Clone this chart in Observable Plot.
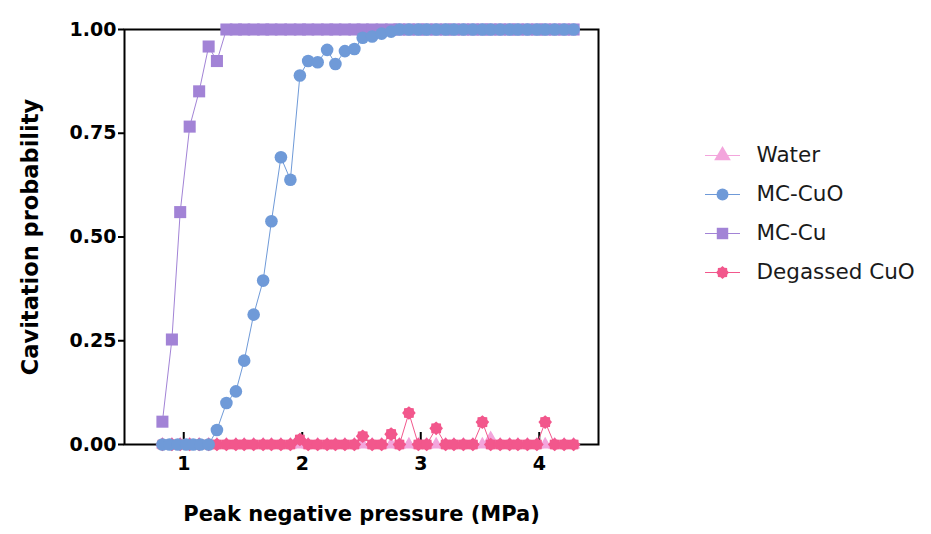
<!DOCTYPE html>
<html>
<head>
<meta charset="utf-8">
<script src="https://cdn.jsdelivr.net/npm/d3@7"></script>
<script src="https://cdn.jsdelivr.net/npm/@observablehq/plot@0.6"></script>
<style>
  body { margin: 0; background: #fff; }
  #chart { position: relative; width: 931px; height: 534px; }
  #legend { position: absolute; left: 690px; top: 135px; }
</style>
</head>
<body>
<div id="chart"><div id="legend"></div></div>
<script>
// Peak negative pressure (MPa) of each acoustic step
const pressure = [0.82, 0.90, 0.97, 1.05, 1.13, 1.21, 1.28, 1.36, 1.44, 1.51,
  1.59, 1.67, 1.74, 1.82, 1.90, 1.98, 2.05, 2.13, 2.21, 2.28,
  2.36, 2.44, 2.51, 2.59, 2.67, 2.75, 2.82, 2.90, 2.98, 3.05,
  3.13, 3.21, 3.28, 3.36, 3.44, 3.52, 3.59, 3.67, 3.75, 3.82,
  3.90, 3.98, 4.05, 4.13, 4.21, 4.29];
// The MC-CuO run used finer steps below 1.3 MPa
const pressureCuO = [0.82, 0.88, 0.95, 1.02, 1.08, 1.14, 1.21, 1.28, 1.36, 1.44, 1.51,
  1.59, 1.67, 1.74, 1.82, 1.90, 1.98, 2.05, 2.13, 2.21, 2.28,
  2.36, 2.44, 2.51, 2.59, 2.67, 2.75, 2.82, 2.90, 2.98, 3.05,
  3.13, 3.21, 3.28, 3.36, 3.44, 3.52, 3.59, 3.67, 3.75, 3.82,
  3.90, 3.98, 4.05, 4.13, 4.21, 4.29];

// Cavitation probability per sample
const water = [0, 0, 0, 0, 0, 0, 0, 0, 0, 0,
  0, 0, 0, 0, 0, 0, 0, 0, 0, 0,
  0, 0, 0, 0, 0, 0, 0, 0, 0, 0,
  0, 0, 0, 0, 0, 0, 0.015, 0, 0, 0,
  0, 0, 0, 0, 0, 0];
const mcCuO = [0, 0, 0, 0, 0, 0, 0, 0.035, 0.10, 0.128, 0.202,
  0.313, 0.395, 0.538, 0.692, 0.638, 0.889, 0.924, 0.921, 0.951, 0.917,
  0.948, 0.953, 0.980, 0.983, 0.990, 0.995, 1, 1, 1, 1,
  1, 1, 1, 1, 1, 1, 1, 1, 1, 1,
  1, 1, 1, 1, 1, 1];
const mcCu = [0.055, 0.253, 0.560, 0.766, 0.851, 0.959, 0.924, 1, 1, 1,
  1, 1, 1, 1, 1, 1, 1, 1, 1, 1,
  1, 1, 1, 1, 1, 1, 1, 1, 1, 1,
  1, 1, 1, 1, 1, 1, 1, 1, 1, 1,
  1, 1, 1, 1, 1, 1];
const degassedCuO = [0, 0, 0, 0, 0, 0, 0, 0, 0, 0,
  0, 0, 0, 0, 0, 0.012, 0, 0, 0, 0,
  0, 0, 0.020, 0, 0, 0.025, 0, 0.076, 0, 0,
  0.039, 0, 0, 0, 0, 0.054, 0, 0, 0, 0,
  0, 0, 0.054, 0, 0, 0];

const seriesNames = ["Water", "MC-CuO", "MC-Cu", "Degassed CuO"];
const seriesColors = ["#f3a5dc", "#6f9ad8", "#a283d6", "#f2578c"];
const xTicks = [1, 2, 3, 4];
const yTicks = [0, 0.25, 0.5, 0.75, 1];
const xTitle = "Peak negative pressure (MPa)";
const yTitle = "Cavitation probability";

// Filled eight-pointed star with shallow points, used for the degassed sample
const star = {
  draw(context, size) {
    const r = Math.sqrt(size / Math.PI) * 1.1;
    const ri = r * 0.8;
    for (let k = 0; k < 16; ++k) {
      const a = Math.PI * k / 8 - Math.PI / 2;
      const rr = k % 2 ? ri : r;
      const px = Math.cos(a) * rr, py = Math.sin(a) * rr;
      if (k === 0) context.moveTo(px, py); else context.lineTo(px, py);
    }
    context.closePath();
  }
};

const toRows = (name, xs, values) => xs.map((p, i) => ({series: name, pressure: p, prob: values[i]}));
const series = [
  {name: "Water", rows: toRows("Water", pressure, water), symbol: "triangle", r: 5},
  {name: "Degassed CuO", rows: toRows("Degassed CuO", pressure, degassedCuO), symbol: star, r: 6.2},
  {name: "MC-Cu", rows: toRows("MC-Cu", pressure, mcCu), symbol: "square", r: 6.8},
  {name: "MC-CuO", rows: toRows("MC-CuO", pressureCuO, mcCuO), symbol: "circle", r: 6.3}
];

const colorScale = {domain: seriesNames, range: seriesColors};

const seriesMarks = series.flatMap(s => [
  Plot.line(s.rows, {x: "pressure", y: "prob", stroke: "series", strokeWidth: 1}),
  Plot.dot(s.rows, {x: "pressure", y: "prob", fill: "series", symbol: s.symbol, r: s.r, stroke: "none"})
]);

const chart = Plot.plot({
  width: 931,
  height: 534,
  marginLeft: 124,
  marginRight: 333,
  marginTop: 29,
  marginBottom: 90,
  style: {fontFamily: "'DejaVu Sans', sans-serif", fontSize: "19px", fontWeight: "bold", color: "#000", background: "#fff"},
  x: {domain: [0.5, 4.5]},
  y: {domain: [0, 1]},
  color: colorScale,
  marks: [
    Plot.frame({stroke: "#000", strokeWidth: 2}),
    Plot.axisY(yTicks, {tickSize: 6, tickPadding: 2, tickFormat: d3.format(".2f"), label: null, strokeWidth: 2}),
    Plot.axisX(xTicks, {tickSize: 0, tickPadding: 12, tickFormat: d3.format("d"), label: null}),
    Plot.axisX(xTicks, {tickSize: 12, text: null, dy: -12, label: null, strokeWidth: 2}),
    Plot.text([xTitle], {frameAnchor: "bottom", dy: 76, fontSize: 21, fontWeight: "bold"}),
    Plot.text([yTitle], {frameAnchor: "left", textAnchor: "middle", rotate: -90, dx: -94, fontSize: 22.5, fontWeight: "bold"}),
    ...seriesMarks
  ]
});
document.getElementById("chart").prepend(chart);

// Legend: a short line with the series marker, followed by its name
const legendSymbols = {"Water": "triangle", "MC-CuO": "circle", "MC-Cu": "square", "Degassed CuO": star};
const legendSizes = {"Water": 6.5, "MC-CuO": 6.3, "MC-Cu": 6.8, "Degassed CuO": 6.2};
const legend = Plot.plot({
  width: 240,
  height: 160,
  margin: 0,
  x: {domain: [0, 240], range: [0, 240], axis: null},
  y: {type: "point", domain: seriesNames, range: [20, 137], padding: 0, axis: null},
  color: colorScale,
  style: {fontFamily: "'DejaVu Sans', sans-serif", fontSize: "21.5px", color: "#1a1a1a", background: "transparent"},
  marks: [
    Plot.ruleY(seriesNames, {y: d => d, x1: 15, x2: 50, stroke: d => d, strokeWidth: 1}),
    ...seriesNames.map(name => Plot.dot([name], {x: 32, y: d => d, fill: d => d, symbol: legendSymbols[name], r: legendSizes[name] * 0.95})),
    Plot.text(seriesNames, {x: 66, y: d => d, text: d => d, textAnchor: "start", fill: "#1a1a1a"})
  ]
});
document.getElementById("legend").append(legend);
</script>
</body>
</html>
